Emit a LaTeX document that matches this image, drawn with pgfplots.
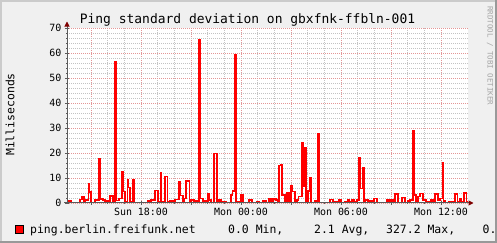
\documentclass[border=0pt]{standalone}
\usepackage{fontspec}
\setmainfont{DejaVu Sans Mono}
\usepackage{pgfplots}
\pgfplotsset{compat=1.18}
\usetikzlibrary{arrows.meta}
\definecolor{bgcol}{RGB}{240,240,240}
\definecolor{shadea}{RGB}{203,203,203}
\definecolor{shadeb}{RGB}{153,153,153}
\definecolor{mgridcol}{RGB}{228,150,150}
\definecolor{gridcol}{RGB}{195,195,195}
\definecolor{axiscol}{RGB}{90,90,90}
\definecolor{arrowcol}{RGB}{127,0,0}
\definecolor{wmcol}{RGB}{165,165,165}
\begin{document}
\begin{tikzpicture}
\fill[bgcol] (0,0) rectangle (497bp,243bp);
\draw[shadea, line width=2bp] (1bp,0) -- (1bp,242bp) -- (497bp,242bp);
\draw[shadeb, line width=2bp] (0,1bp) -- (496bp,1bp) -- (496bp,243bp);
\begin{axis}[
 at={(67bp,40bp)}, anchor=south west,
 scale only axis, width=401bp, height=175bp,
 xmin=1.56, xmax=25.62, ymin=0, ymax=70,
 clip=false,
 axis line style={draw=none},
 axis background/.style={fill=white},
 xtick={3,6,...,24},
 xticklabels={,Sun 18:00,,Mon 00:00,,Mon 06:00,,Mon 12:00},
 minor x tick num=2,
 ytick={0,10,...,70},
 minor y tick num=4,
 grid=both,
 major grid style={mgridcol, dash pattern=on 1bp off 1bp, line width=0.8bp},
 minor grid style={gridcol, dash pattern=on 1bp off 1bp, line width=0.8bp},
 tick style={axiscol, line width=0.8bp},
 major tick length=4bp, minor tick length=2bp,
 tick align=center,
 xtick pos=bottom, ytick pos=left,
 ticklabel style={font=\fontsize{10}{12}\selectfont},
 /pgf/number format/assume math mode=true,
]
\addplot[const plot, red, line width=1.2bp] coordinates {
(1.56,0.3) (1.68,0.8) (1.80,0.3) (2.34,1.5) (2.46,2.4) (2.58,0.3) (2.64,1.2)
(2.85,7.6) (2.91,4.4) (3.00,0.3) (3.24,1.2) (3.48,17.6) (3.54,1.6) (3.72,1.2)
(3.84,0.3) (3.96,0.8) (4.14,2.8) (4.32,0.3) (4.44,56.5) (4.50,1.0) (4.68,1.9)
(4.86,12.4) (4.92,4.5) (5.04,0.5) (5.19,9.2) (5.25,6.3) (5.34,0.5) (5.52,9.5)
(5.58,0.3) (6.42,0.8) (6.60,1.2) (6.84,5.0) (7.02,0.5) (7.17,12.3) (7.23,0.5)
(7.44,10.7) (7.59,0.5) (7.74,0.8) (7.92,0.3) (8.04,1.5) (8.28,8.4) (8.34,3.0)
(8.52,0.8) (8.58,1.9) (8.70,8.8) (8.91,0.5) (9.00,1.2) (9.18,0.8) (9.48,65.5)
(9.54,1.9) (9.72,0.8) (10.02,3.6) (10.11,1.2) (10.20,0.3) (10.38,19.9) (10.56,0.5)
(10.68,1.5) (10.80,0.5) (11.10,0.3) (11.40,3.2) (11.49,4.8) (11.64,59.5) (11.70,0.5)
(11.94,0.3) (12.00,3.3) (12.12,0.3) (12.48,1.2) (12.66,0.3) (12.96,0.5) (13.08,0.3)
(13.32,0.8) (13.50,0.3) (13.68,1.6) (13.80,0.8) (13.92,1.6) (14.10,1.2) (14.22,0.3)
(14.28,15.0) (14.37,15.5) (14.46,3.2) (14.64,0.5) (14.76,4.0) (14.88,0.5) (15.00,6.9)
(15.06,4.6) (15.24,0.5) (15.36,1.2) (15.45,2.5) (15.66,24.0) (15.72,6.5) (15.84,22.0)
(15.90,0.5) (16.02,4.8) (16.14,10.0) (16.20,0.3) (16.44,0.8) (16.62,27.7) (16.68,0.3)
(17.34,1.5) (17.52,0.5) (17.88,1.2) (18.00,0.3) (18.24,0.5) (18.42,1.5) (18.51,0.5)
(18.66,1.5) (18.78,0.5) (18.96,1.2) (19.08,18.1) (19.14,5.9) (19.32,14.1) (19.38,0.5)
(19.44,1.2) (19.62,0.5) (19.74,0.8) (19.86,0.3) (19.98,1.9) (20.16,0.3) (20.76,1.5)
(20.88,0.8) (21.00,1.2) (21.12,0.5) (21.24,3.6) (21.42,0.3) (21.66,2.3) (21.84,0.3)
(22.02,0.8) (22.14,1.2) (22.32,28.8) (22.38,3.2) (22.50,0.5) (22.62,2.5) (22.74,3.9)
(22.92,1.2) (23.10,0.5) (23.40,1.2) (23.52,0.8) (23.64,3.6) (23.82,1.2) (23.94,1.9)
(24.09,16.3) (24.15,0.8) (24.24,0.3) (24.48,0.5) (24.84,3.6) (24.99,0.5) (25.14,1.9)
(25.23,0.5) (25.38,4.0) (25.53,0.5) (25.60,0.5)
};
\draw[axiscol, line width=1bp, -{Triangle[length=5bp,width=5bp,color=arrowcol]}]
  (rel axis cs:0,0) -- ([yshift=6.5bp]rel axis cs:0,1);
\draw[axiscol, line width=1bp, -{Triangle[length=5bp,width=5bp,color=arrowcol]}]
  ([xshift=-3bp]rel axis cs:0,0) -- ([xshift=5.5bp]rel axis cs:1,0);
\end{axis}
\node[anchor=base, inner sep=0pt, font=\fontsize{13}{15}\selectfont] at (247.5bp,219bp) {Ping standard deviation on gbxfnk-ffbln-001};
\node[rotate=90, inner sep=0pt, font=\fontsize{11.5}{13}\selectfont] at (10bp,128.5bp) {Milliseconds};
\node[rotate=-90, anchor=west, inner sep=0pt, font=\fontsize{7.5}{9}\selectfont, text=wmcol] at (490bp,237bp) {RRDTOOL / TOBI OETIKER};
\draw[black, fill=red, line width=0.8bp] (15.5bp,9.5bp) rectangle (23.5bp,17.5bp);
\begin{scope}[every node/.style={anchor=base west, inner sep=0pt, font=\fontsize{11.5}{13}\selectfont}]
\node at (30bp,9.5bp) {ping.berlin.freifunk.net};
\node at (228bp,9.5bp) {0.0 Min,};
\node at (314bp,9.5bp) {2.1 Avg,};
\node at (386bp,9.5bp) {327.2 Max,};
\node at (482.5bp,9.5bp) {0.};
\end{scope}
\pgfresetboundingbox
\useasboundingbox (0,0) rectangle (497bp,243bp);
\end{tikzpicture}
\end{document}
